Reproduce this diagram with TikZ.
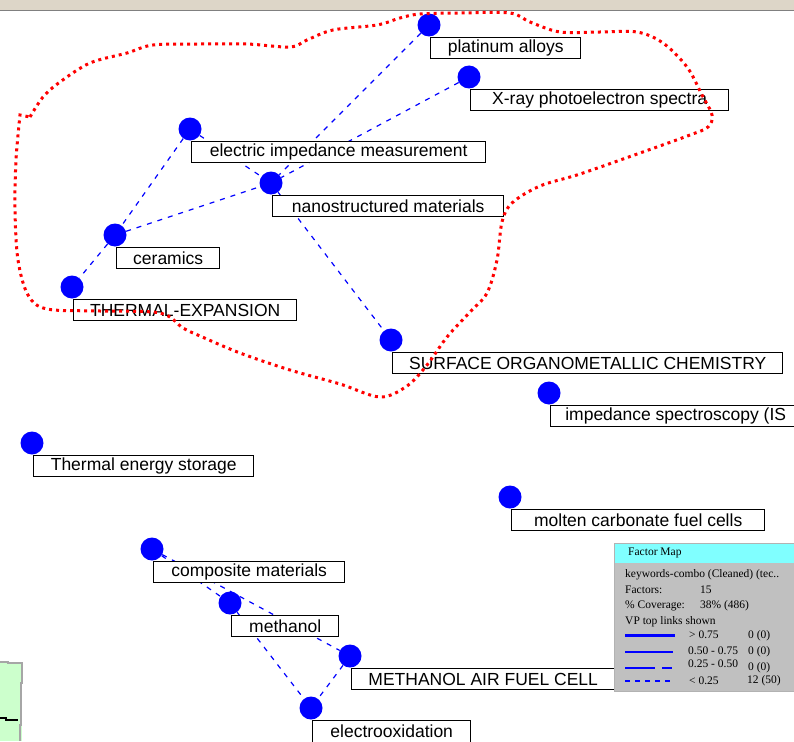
\documentclass[tikz,border=0pt]{standalone}
\usepackage{fontspec}
\setmainfont{Liberation Sans}
\newfontfamily\legendfont{Liberation Serif}
\usetikzlibrary{positioning}
\definecolor{barbeige}{RGB}{221,214,200}
\definecolor{legendgray}{RGB}{192,192,192}
\definecolor{legendcyan}{RGB}{128,255,255}
\definecolor{panelgreen}{RGB}{204,255,204}

\begin{document}
\begin{tikzpicture}[x=1pt, y=-1pt,
  dot/.style={circle, fill=blue, inner sep=0pt, minimum size=23pt},
  lbl/.style={draw=black, line width=1.4pt, fill=white, inner sep=0pt, minimum height=21pt, font=\fontsize{17.5}{20}\selectfont},
  link/.style={blue, line width=1.2pt, dash pattern=on 5pt off 6pt},
  loopline/.style={red, line width=3pt, dash pattern=on 3pt off 4pt},
  legtext/.style={anchor=west, inner sep=0pt, font=\legendfont\fontsize{11.5}{13}\selectfont}]

\clip (0,0) rectangle (794,741);
\fill[white] (0,0) rectangle (794,741);
\fill[barbeige] (0,0) rectangle (794,10);
\draw[gray, line width=1pt] (0,10.5) -- (794,10.5);

\fill[panelgreen] (0,662) rectangle (22,741);
\draw[gray!70, line width=1.5pt] (0,662) -- (8,662) -- (8,663) -- (22,663) -- (22,683) -- (21,683) -- (21,725) -- (20,725) -- (20,741);
\draw[black, line width=1.2pt] (0,718) -- (6,718) -- (6,720) -- (18,720);

\node[dot] (platinum) at (429,25) {};
\node[dot] (xray) at (469,77) {};
\node[dot] (elec) at (190,129) {};
\node[dot] (nano) at (271,183) {};
\node[dot] (ceramics) at (115,235) {};
\node[dot] (thermexp) at (72,287) {};
\node[dot] (surface) at (391,340) {};
\node[dot] (impspec) at (549,393) {};
\node[dot] (thermstor) at (32,443) {};
\node[dot] (molten) at (510,497) {};
\node[dot] (composite) at (152,549) {};
\node[dot] (methanol) at (230,603) {};
\node[dot] (mafc) at (350,656) {};
\node[dot] (electroox) at (311,708) {};

\draw[link] (platinum) -- (nano);
\draw[link] (xray) -- (nano);
\draw[link] (elec) -- (nano);
\draw[link] (elec) -- (ceramics);
\draw[link] (ceramics) -- (nano);
\draw[link] (ceramics) -- (thermexp);
\draw[link] (nano) -- (surface);
\draw[link] (composite) -- (methanol);
\draw[link] (composite) -- (mafc);
\draw[link] (methanol) -- (electroox);
\draw[link] (mafc) -- (electroox);

\node[lbl, minimum width=150pt, below right=12pt and 1pt of platinum.center] (platinum-lbl) {platinum alloys};
\node[lbl, minimum width=258pt, below right=12pt and 1pt of xray.center] (xray-lbl) {X-ray photoelectron spectra};
\node[lbl, minimum width=294pt, below right=12pt and 1pt of elec.center] (elec-lbl) {electric impedance measurement};
\node[lbl, minimum width=231pt, below right=12pt and 1pt of nano.center] (nano-lbl) {nanostructured materials};
\node[lbl, minimum width=103pt, below right=12pt and 1pt of ceramics.center] (ceramics-lbl) {ceramics};
\node[lbl, minimum width=223pt, below right=12pt and 1pt of thermexp.center] (thermexp-lbl) {THERMAL-EXPANSION};
\node[lbl, minimum width=390pt, below right=12pt and 1pt of surface.center] (surface-lbl) {SURFACE ORGANOMETALLIC CHEMISTRY};
\node[lbl, minimum width=250pt, below right=12pt and 1pt of impspec.center] (impspec-lbl) {impedance spectroscopy (IS};
\node[lbl, minimum width=220pt, below right=12pt and 1pt of thermstor.center] (thermstor-lbl) {Thermal energy storage};
\node[lbl, minimum width=253pt, below right=12pt and 1pt of molten.center] (molten-lbl) {molten carbonate fuel cells};
\node[lbl, minimum width=191pt, below right=12pt and 1pt of composite.center] (composite-lbl) {composite materials};
\node[lbl, minimum width=107pt, below right=12pt and 1pt of methanol.center] (methanol-lbl) {methanol};
\node[lbl, minimum width=263pt, below right=12pt and 1pt of mafc.center] (mafc-lbl) {METHANOL AIR FUEL CELL};
\node[lbl, minimum width=158pt, minimum height=22pt, below right=12pt and 1pt of electroox.center] (electroox-lbl) {electrooxidation};

\fill[legendgray, draw=gray!60, line width=1pt] (614,543) rectangle (800,691);
\fill[legendcyan] (615,544) rectangle (800,563);
\node[legtext] (leg-title) at (628,553) {Factor Map};
\node[legtext] (leg-src) at (625,575) {keywords-combo (Cleaned) (tec..};
\node[legtext] (leg-fac) at (625,590) {Factors:};
\node[legtext] (leg-facval) at (700,590) {15};
\node[legtext] (leg-cov) at (625,606) {\% Coverage:};
\node[legtext] (leg-covval) at (700,606) {38\% (486)};
\node[legtext] (leg-links) at (625,622) {VP top links shown};
\draw[blue, line width=3pt] (625,635) -- (675,635);
\node[legtext] (leg-r1) at (689,635) {> 0.75};
\node[legtext] (leg-n1) at (748,636) {0 (0)};
\draw[blue, line width=1.8pt] (625,652) -- (673,652);
\node[legtext] (leg-r2) at (688,651) {0.50 - 0.75};
\node[legtext] (leg-n2) at (748,652) {0 (0)};
\draw[blue, line width=1.5pt] (625,668) -- (655,668) (662,668) -- (672,668);
\node[legtext] (leg-r3) at (688,664) {0.25 - 0.50};
\node[legtext] (leg-n3) at (748,668) {0 (0)};
\draw[blue, line width=1.3pt, dash pattern=on 5pt off 5pt] (625,681) -- (673,681);
\node[legtext] (leg-r4) at (689,681) {< 0.25};
\node[legtext] (leg-n4) at (747,681) {12 (50)};

\draw[loopline] plot[smooth, tension=0.55] coordinates {(30,117) (43,97) (60,82) (90,63) (127,53) (153,45) (200,44) (247,44) (290,47) (307,40) (333,30) (377,25) (400,18) (420,14) (460,13) (510,13) (530,22) (560,32) (600,32) (637,32) (663,43) (687,67) (702,95) (712,115) (708,127) (690,135) (640,153) (580,174) (540,186) (512,203) (502,222) (497,260) (487,293) (470,312) (447,337) (427,365) (407,386) (380,397) (340,384) (290,370) (240,353) (200,336) (183,328) (160,313) (100,311) (47,309) (28,295) (18,260) (15,210) (16,160) (20,115)} -- cycle;

\end{tikzpicture}
\end{document}
